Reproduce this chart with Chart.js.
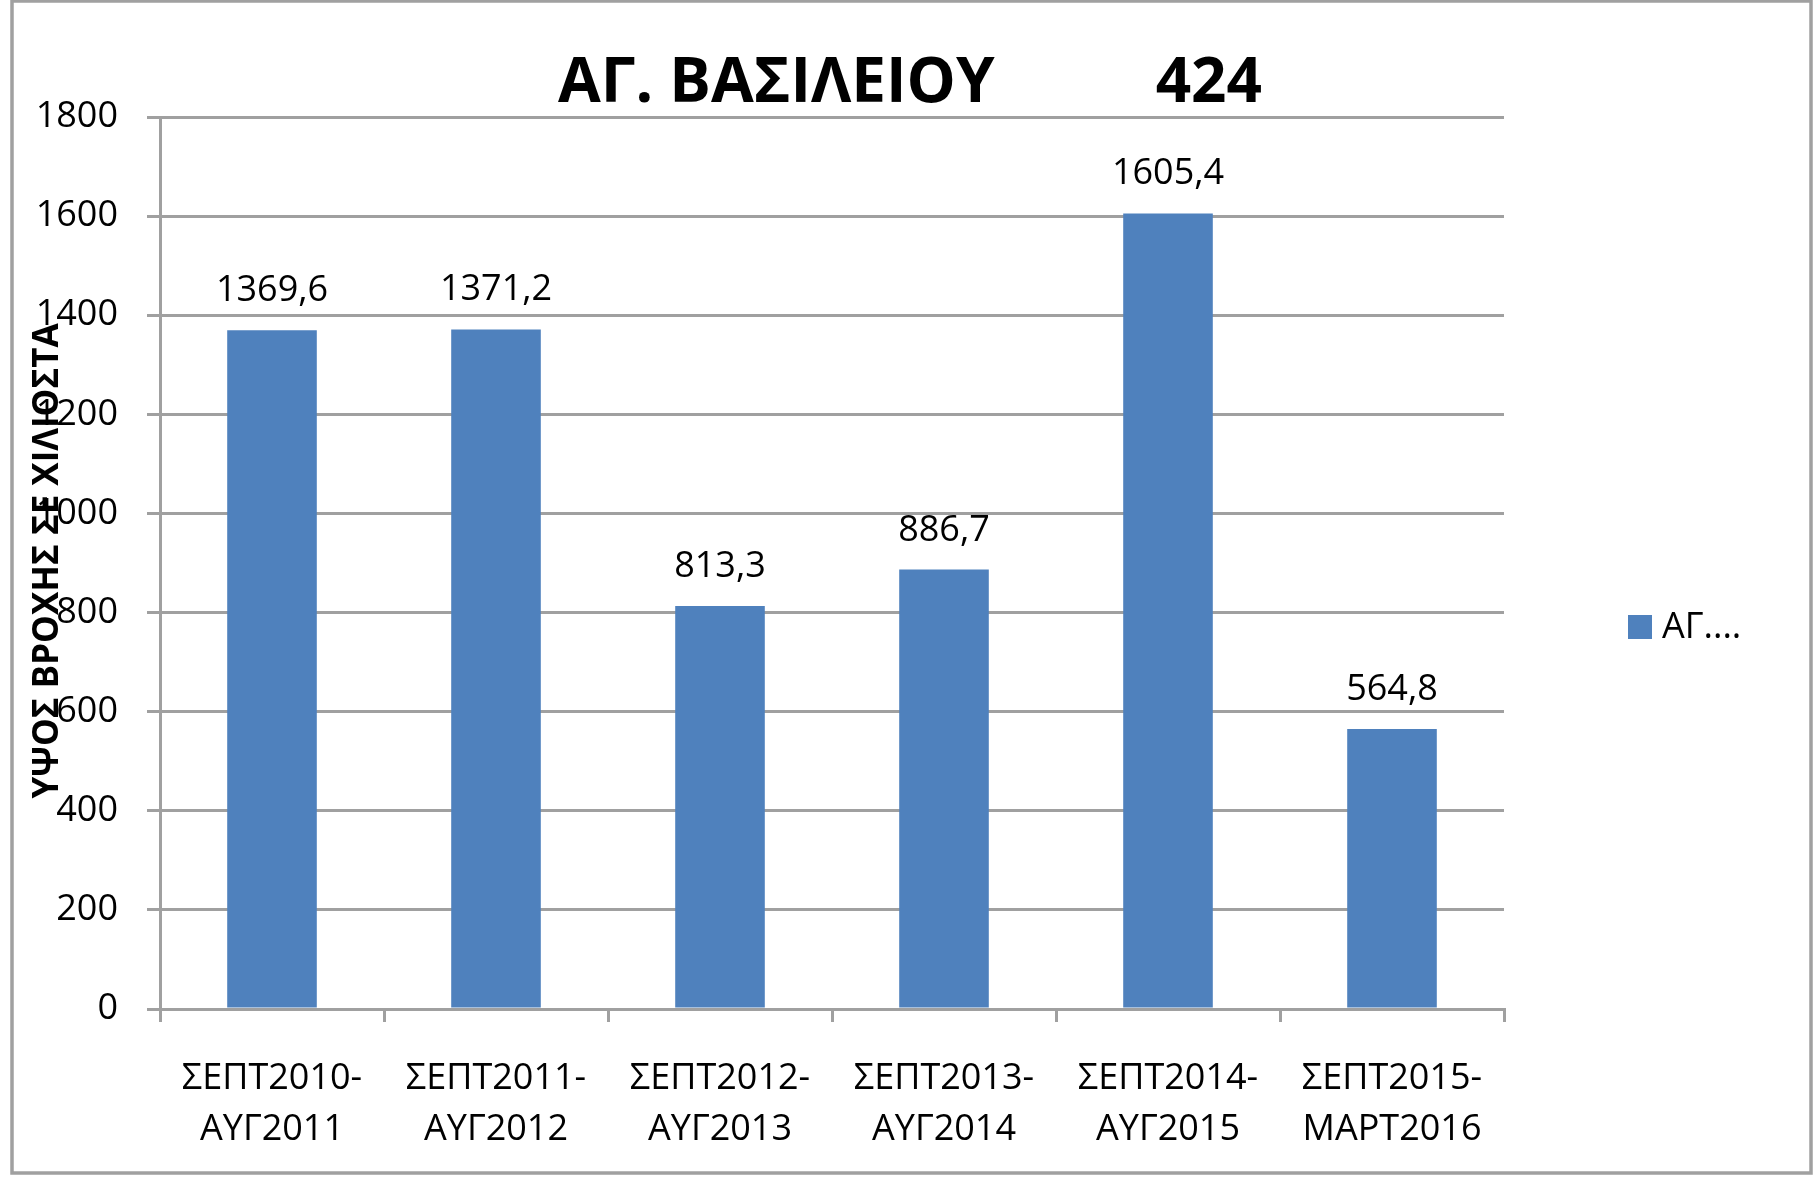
<!DOCTYPE html>
<html>
<head>
<meta charset="utf-8">
<script src="https://cdn.jsdelivr.net/npm/chart.js@4.4.1/dist/chart.umd.min.js"></script>
<style>
  html, body { margin: 0; padding: 0; background: #fff; }
  #wrap { width: 1814px; height: 1179px; position: relative; }
</style>
</head>
<body>
<div id="wrap"><canvas id="rainChart"></canvas></div>
<script>
const periods = [
  ["ΣΕΠΤ2010-", "ΑΥΓ2011"],
  ["ΣΕΠΤ2011-", "ΑΥΓ2012"],
  ["ΣΕΠΤ2012-", "ΑΥΓ2013"],
  ["ΣΕΠΤ2013-", "ΑΥΓ2014"],
  ["ΣΕΠΤ2014-", "ΑΥΓ2015"],
  ["ΣΕΠΤ2015-", "ΜΑΡΤ2016"]
];
const rainfall = [1369.6, 1371.2, 813.3, 886.7, 1605.4, 564.8];
const yTicks = [0, 200, 400, 600, 800, 1000, 1200, 1400, 1600, 1800];

const chartTitle = "ΑΓ. ΒΑΣΙΛΕΙΟΥ          424";
const yTitle = "ΥΨΟΣ ΒΡΟΧΗΣ ΣΕ ΧΙΛΙΟΣΤΑ";
const seriesLabel = "ΑΓ....";

const barColor = "#4f81bd";
const lineColor = "#a0a0a0";
const fontFamily = "'Open Sans', 'Noto Sans', sans-serif";

// frame, title, axis title, legend and value labels
const extras = {
  id: "extras",
  beforeDraw(chart) {
    const ctx = chart.ctx;
    ctx.save();
    ctx.strokeStyle = lineColor;
    ctx.lineWidth = 3.5;
    ctx.strokeRect(12, 1, 1799, 1172);
    ctx.restore();
  },
  afterDraw(chart) {
    const ctx = chart.ctx;
    const area = chart.chartArea;
    ctx.save();
    ctx.fillStyle = "#000";

    // title
    ctx.font = "bold 62px " + fontFamily;
    ctx.textAlign = "center";
    ctx.textBaseline = "alphabetic";
    ctx.fillText(chartTitle, 910, 102);

    // value labels
    ctx.font = "36px " + fontFamily;
    const meta = chart.getDatasetMeta(0);
    meta.data.forEach((bar, i) => {
      const txt = rainfall[i].toFixed(1).replace(".", ",");
      ctx.fillText(txt, bar.x, bar.y - 29);
    });

    // legend
    ctx.fillStyle = barColor;
    ctx.fillRect(1628, 615, 24, 24);
    ctx.fillStyle = "#000";
    ctx.textAlign = "left";
    ctx.fillText(seriesLabel, 1662, 638);

    // y axis title, drawn over the tick labels like the original
    ctx.translate(58, (area.top + area.bottom) / 2 - 2);
    ctx.rotate(-Math.PI / 2);
    ctx.font = "bold 35px " + fontFamily;
    ctx.textAlign = "center";
    ctx.fillText(yTitle, 0, 0);
    ctx.restore();
  }
};

new Chart(document.getElementById("rainChart"), {
  type: "bar",
  data: {
    labels: periods,
    datasets: [{
      label: seriesLabel,
      data: rainfall,
      backgroundColor: barColor,
      borderWidth: 0,
      categoryPercentage: 1,
      barPercentage: 0.4
    }]
  },
  options: {
    responsive: true,
    maintainAspectRatio: false,
    animation: false,
    layout: { padding: { left: 0, right: 310, top: 117, bottom: 0 } },
    plugins: {
      legend: { display: false },
      title: { display: false },
      tooltip: { enabled: false }
    },
    scales: {
      x: {
        grid: {
          drawOnChartArea: false,
          drawTicks: true,
          tickLength: 13,
          color: lineColor,
          lineWidth: 3
        },
        border: { color: lineColor, width: 3 },
        ticks: {
          color: "#000",
          padding: 31,
          maxRotation: 0,
          autoSkip: false,
          font: { family: fontFamily, size: 36, lineHeight: 1.42 }
        },
        afterFit(scale) { scale.height = 170; }
      },
      y: {
        min: 0,
        max: 1800,
        afterBuildTicks(scale) { scale.ticks = yTicks.map(v => ({ value: v })); },
        grid: { color: lineColor, lineWidth: 3, tickLength: 13 },
        border: { color: lineColor, width: 3 },
        ticks: {
          color: "#000",
          padding: 29,
          font: { family: fontFamily, size: 36 },
          callback: v => String(v)
        },
        afterFit(scale) { scale.width = 160; }
      }
    }
  },
  plugins: [extras]
});
</script>
</body>
</html>
